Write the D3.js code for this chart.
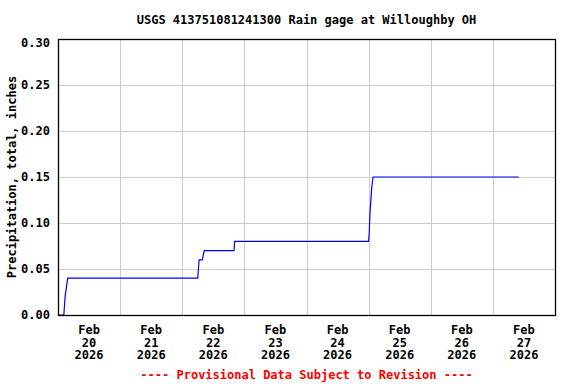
<!DOCTYPE html>
<html>
<head>
<meta charset="utf-8">
<script src="https://cdn.jsdelivr.net/npm/d3@7"></script>
<style>
  body { margin: 0; background: #fff; }
  text { font-family: "DejaVu Sans Mono", "Liberation Mono", monospace; font-weight: bold; }
</style>
</head>
<body>
<svg id="chart" width="576" height="384"></svg>
<script>
'use strict';

// readings, cumulative precipitation in inches (15-minute gage)
var times = [
    "2026-02-20T00:00", "2026-02-20T02:15", "2026-02-20T02:30", "2026-02-20T02:45",
    "2026-02-20T03:15", "2026-02-20T03:45",
    "2026-02-22T06:00", "2026-02-22T06:15", "2026-02-22T06:30", "2026-02-22T07:45",
    "2026-02-22T08:30", "2026-02-22T20:00", "2026-02-22T20:15",
    "2026-02-25T00:00", "2026-02-25T00:15", "2026-02-25T00:30", "2026-02-25T01:00",
    "2026-02-25T01:15", "2026-02-25T01:45", "2026-02-27T10:00"
];
var precip = [
    0.00, 0.00, 0.01, 0.02,
    0.03, 0.04,
    0.04, 0.05, 0.06, 0.06,
    0.07, 0.07, 0.08,
    0.08, 0.09, 0.11, 0.13,
    0.14, 0.15, 0.15
];
var dayLabels = ["Feb\n20\n2026", "Feb\n21\n2026", "Feb\n22\n2026", "Feb\n23\n2026",
                 "Feb\n24\n2026", "Feb\n25\n2026", "Feb\n26\n2026", "Feb\n27\n2026"];
var yTicks = [0, 0.05, 0.10, 0.15, 0.20, 0.25, 0.30];

var parse = d3.timeParse("%Y-%m-%dT%H:%M");
var data = times.map((t, i) => ({"t": parse(t), "v": precip[i]}));

var plotLeft = 58, plotRight = 555, plotTop = 39, plotBottom = 315;

var x = d3.scaleTime()
          .domain([parse("2026-02-20T00:00"), parse("2026-02-28T00:00")])
          .range([plotLeft, plotRight]);
var y = d3.scaleLinear().domain([0, 0.30]).range([plotBottom, plotTop]);

var svg = d3.select("#chart");

// grid
var days = d3.timeDay.range(parse("2026-02-21T00:00"), parse("2026-02-28T00:00"));
svg.append("g").selectAll("line")
   .data(days)
   .enter().append("line")
   .attr("x1", d => Math.round(x(d)) + 0.5).attr("x2", d => Math.round(x(d)) + 0.5)
   .attr("y1", plotTop).attr("y2", plotBottom)
   .attr("stroke", "#cccccc");

svg.append("g").selectAll("line")
   .data(yTicks.slice(1, -1))
   .enter().append("line")
   .attr("x1", plotLeft).attr("x2", plotRight)
   .attr("y1", d => Math.round(y(d)) + 0.5).attr("y2", d => Math.round(y(d)) + 0.5)
   .attr("stroke", "#cccccc");

// the data line
var line = d3.line().x(d => x(d.t)).y(d => y(d.v));
svg.append("path")
   .datum(data)
   .attr("d", line)
   .attr("fill", "none")
   .attr("stroke", "#0000ff")
   .attr("stroke-width", 1.2);

// frame
svg.append("rect")
   .attr("x", plotLeft + 0.5).attr("y", plotTop + 0.5)
   .attr("width", plotRight - plotLeft).attr("height", plotBottom - plotTop)
   .attr("fill", "none")
   .attr("stroke", "#000")
   .attr("stroke-width", 1.3);

// y tick labels
svg.append("g").selectAll("text")
   .data(yTicks)
   .enter().append("text")
   .attr("x", 50)
   .attr("y", d => Math.max(y(d), 42.5))
   .attr("dy", "0.35em")
   .attr("text-anchor", "end")
   .attr("font-size", 12)
   .text(d => d3.format(".2f")(d));

// x tick labels, centered at noon of each day
var noons = d3.timeDay.range(parse("2026-02-20T00:00"), parse("2026-02-28T00:00"))
              .map(d => d3.timeHour.offset(d, 12));
var xl = svg.append("g").selectAll("text")
            .data(noons)
            .enter().append("text")
            .attr("text-anchor", "middle")
            .attr("font-size", 12);
xl.each(function(d, i) {
    var el = d3.select(this);
    dayLabels[i].split("\n").forEach((s, k) => {
        el.append("tspan").attr("x", x(d)).attr("y", 334 + k * 12.7).text(s);
    });
});

// titles
svg.append("text")
   .attr("x", (plotLeft + plotRight) / 2).attr("y", 24)
   .attr("text-anchor", "middle").attr("font-size", 12)
   .text("USGS 413751081241300 Rain gage at Willoughby OH");

svg.append("text")
   .attr("transform", "translate(16," + (plotTop + plotBottom) / 2 + ") rotate(-90)")
   .attr("text-anchor", "middle").attr("font-size", 12)
   .text("Precipitation, total, inches");

svg.append("text")
   .attr("x", (plotLeft + plotRight) / 2).attr("y", 379)
   .attr("text-anchor", "middle").attr("font-size", 12)
   .attr("fill", "#ff0000")
   .text("---- Provisional Data Subject to Revision ----");
</script>
</body>
</html>
